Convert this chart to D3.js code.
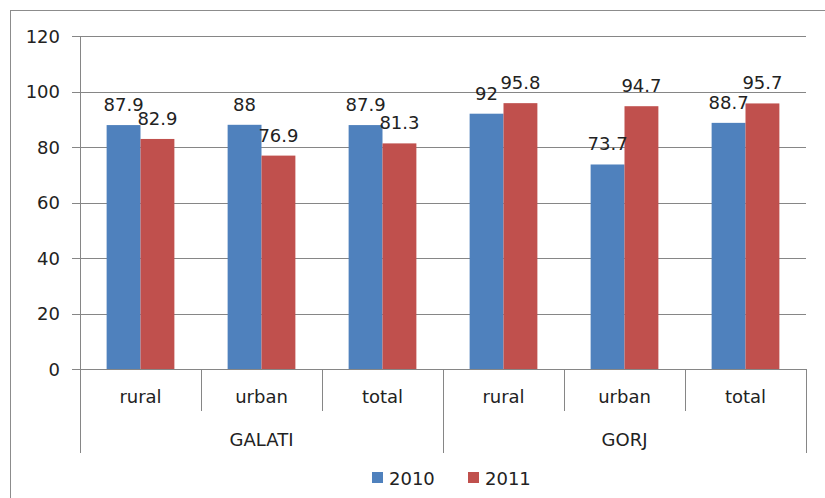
<!DOCTYPE html>
<html>
<head>
<meta charset="utf-8">
<script src="https://cdn.jsdelivr.net/npm/d3@7"></script>
<style>
  html, body { margin: 0; padding: 0; background: #fff; }
  svg { display: block; }
  text { font-family: "DejaVu Sans", sans-serif; fill: #222; }
</style>
</head>
<body>
<svg id="chart" width="825" height="498"></svg>
<script>
const groups = ["GALATI", "GORJ"];
const subCategories = ["rural", "urban", "total"];
const seriesNames = ["2010", "2011"];
const values2010 = [87.9, 88, 87.9, 92, 73.7, 88.7];
const values2011 = [82.9, 76.9, 81.3, 95.8, 94.7, 95.7];
const yTicks = [0, 20, 40, 60, 80, 100, 120];
const colors = ["#4F81BD", "#C0504D"];

const categories = [];
groups.forEach(g => subCategories.forEach(s => categories.push({ group: g, sub: s, key: g + "-" + s })));
const seriesValues = [values2010, values2011];

const svg = d3.select("#chart");
const plotLeft = 80, plotRight = 806, plotTop = 36, plotBottom = 369;

// outer border
svg.append("rect").attr("x", 10.5).attr("y", 10.5).attr("width", 830).attr("height", 500)
  .attr("fill", "none").attr("stroke", "#8c8c8c").attr("stroke-width", 1);

const x = d3.scaleBand().domain(categories.map(d => d.key)).range([plotLeft, plotRight]).padding(0);
const xs = d3.scaleBand().domain(seriesNames).range([x.bandwidth() * 0.22, x.bandwidth() * 0.78]).padding(0);
const y = d3.scaleLinear().domain([0, 120]).range([plotBottom, plotTop]);

// gridlines + y axis
const yAxis = d3.axisLeft(y).tickValues(yTicks).tickSize(-(plotRight - plotLeft)).tickPadding(20).tickFormat(d3.format("d"));
const gy = svg.append("g").attr("transform", `translate(${plotLeft},0)`).call(yAxis);
gy.select(".domain").remove();
gy.selectAll(".tick line").attr("stroke", "#868686").attr("x1", -8).attr("shape-rendering", "crispEdges");
gy.selectAll(".tick text").attr("font-size", 18).attr("fill", "#222").attr("dy", "0.36em")
  .attr("font-family", "DejaVu Sans, sans-serif");

// left axis line
svg.append("line").attr("x1", plotLeft).attr("x2", plotLeft).attr("y1", plotTop).attr("y2", 453)
  .attr("stroke", "#868686").attr("shape-rendering", "crispEdges");

// bars
seriesNames.forEach((s, si) => {
  svg.append("g").selectAll("rect").data(categories).join("rect")
    .attr("x", d => x(d.key) + xs(s))
    .attr("width", xs.bandwidth())
    .attr("y", (d, i) => y(seriesValues[si][i]))
    .attr("height", (d, i) => y(0) - y(seriesValues[si][i]))
    .attr("fill", colors[si]);
});
seriesNames.forEach((s, si) => {
  svg.append("g").selectAll("text").data(categories).join("text")
    .attr("x", d => x(d.key) + xs(s) + xs.bandwidth() / 2)
    .attr("y", (d, i) => y(seriesValues[si][i]) - 14)
    .attr("text-anchor", "middle").attr("font-size", 18)
    .text((d, i) => seriesValues[si][i]);
});

// x axis baseline
svg.append("line").attr("x1", plotLeft).attr("x2", plotRight).attr("y1", y(0)).attr("y2", y(0))
  .attr("stroke", "#868686").attr("shape-rendering", "crispEdges");

// category separators
categories.forEach((d, i) => {
  const xb = x(d.key) + x.bandwidth();
  const isGroupEnd = (i + 1) % subCategories.length === 0;
  svg.append("line").attr("x1", xb).attr("x2", xb).attr("y1", y(0)).attr("y2", isGroupEnd ? 453 : 411)
    .attr("stroke", "#868686").attr("shape-rendering", "crispEdges");
});

// category labels
svg.append("g").selectAll("text").data(categories).join("text")
  .attr("x", d => x(d.key) + x.bandwidth() / 2).attr("y", 403)
  .attr("text-anchor", "middle").attr("font-size", 18).text(d => d.sub);

// group labels
groups.forEach((g, gi) => {
  const first = categories[gi * subCategories.length].key;
  const last = categories[gi * subCategories.length + subCategories.length - 1].key;
  const cx = (x(first) + x(last) + x.bandwidth()) / 2;
  svg.append("text").attr("x", cx).attr("y", 446).attr("text-anchor", "middle")
    .attr("font-size", 18).text(g);
});

// legend
const legendX = [372, 468];
seriesNames.forEach((s, si) => {
  svg.append("rect").attr("x", legendX[si]).attr("y", 472).attr("width", 11).attr("height", 11).attr("fill", colors[si]);
  svg.append("text").attr("x", legendX[si] + 17).attr("y", 485).attr("font-size", 18).text(s);
});
</script>
</body>
</html>
